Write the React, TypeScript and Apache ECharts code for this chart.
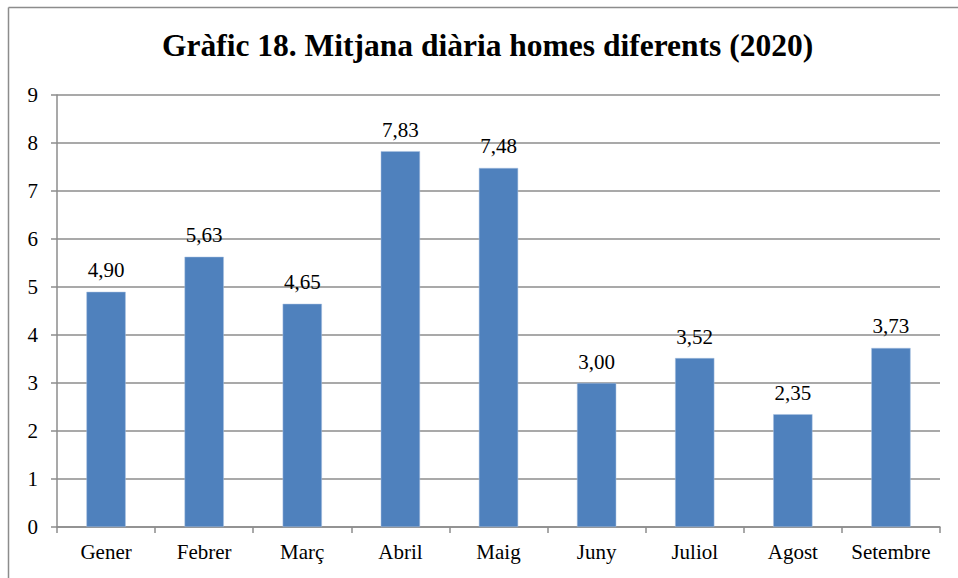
import React, { useEffect, useRef } from "react";
import * as echarts from "echarts";

const categories = ["Gener", "Febrer", "Març", "Abril", "Maig", "Juny", "Juliol", "Agost", "Setembre"];
const values = [4.9, 5.63, 4.65, 7.83, 7.48, 3.0, 3.52, 2.35, 3.73];
const titleText = "Gràfic 18. Mitjana diària homes diferents (2020)";

const FONT = "Liberation Serif";

export default function App() {
  const ref = useRef<HTMLDivElement>(null);
  useEffect(() => {
    document.body.style.margin = "0";
    const chart = echarts.init(ref.current!, null, { renderer: "svg" });
    chart.setOption({
      animation: false,
      backgroundColor: "#ffffff",
      title: {
        text: titleText,
        left: 162,
        top: 29,
        padding: 0,
        textStyle: { fontFamily: FONT, fontWeight: "bold", fontSize: 31.5, color: "#000" },
      },
      graphic: [
        { type: "line", shape: { x1: 8.5, y1: 7.5, x2: 958, y2: 7.5 }, style: { stroke: "#8c8c8c", lineWidth: 1.5 } },
        { type: "line", shape: { x1: 8.5, y1: 7.5, x2: 8.5, y2: 578 }, style: { stroke: "#8c8c8c", lineWidth: 1.5 } },
      ],
      grid: { left: 57, right: 18, top: 95, bottom: 51, containLabel: false },
      xAxis: {
        type: "category",
        data: categories,
        axisLine: { lineStyle: { color: "#8c8c8c", width: 1.5 } },
        axisTick: { show: true, length: 6, lineStyle: { color: "#8c8c8c", width: 1.5 } },
        axisLabel: { fontFamily: FONT, fontSize: 21, color: "#000", margin: 14, interval: 0 },
      },
      yAxis: {
        type: "value",
        min: 0,
        max: 9,
        interval: 1,
        axisLine: { show: true, lineStyle: { color: "#8c8c8c", width: 1.5 } },
        axisTick: { show: true, length: 6, lineStyle: { color: "#8c8c8c", width: 1.5 } },
        splitLine: { lineStyle: { color: "#8c8c8c", width: 1.5 } },
        axisLabel: { fontFamily: FONT, fontSize: 21, color: "#000", margin: 19 },
      },
      series: [
        {
          type: "bar",
          data: values,
          barWidth: "40%",
          itemStyle: { color: "#4f81bd", borderColor: "#a9c0e0", borderWidth: 0.5 },
          label: {
            show: true,
            position: "top",
            distance: 11,
            fontFamily: FONT,
            fontSize: 21,
            color: "#000",
            formatter: (p: any) => p.value.toFixed(2).replace(".", ","),
          },
        },
      ],
    });
    return () => chart.dispose();
  }, []);
  return <div ref={ref} style={{ width: 958, height: 578 }} />;
}
